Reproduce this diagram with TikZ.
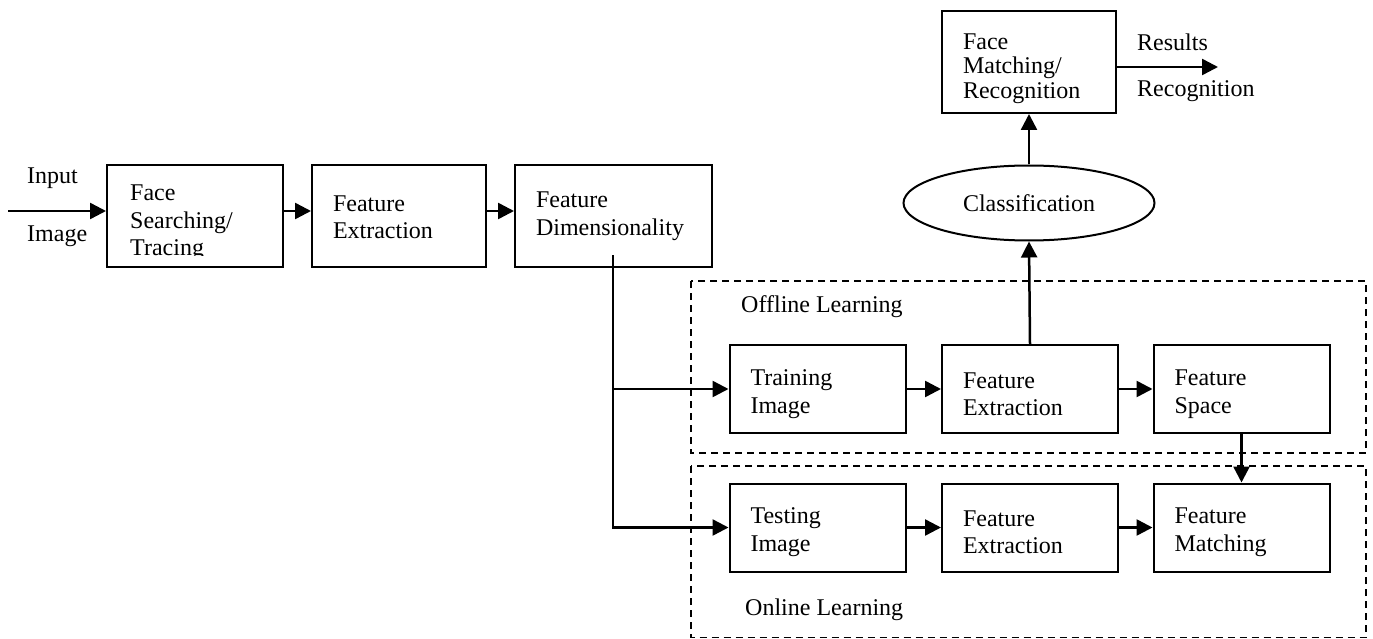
\documentclass[tikz,border=0pt]{standalone}
\usepackage{fontspec}
\setmainfont{Liberation Serif}
\usetikzlibrary{arrows.meta,shapes.geometric}
\newcommand{\mystrut}[1]{\rule{0pt}{#1}}
\begin{document}
\begin{tikzpicture}[x=1pt,y=-1pt,
  txt/.style={font=\fontsize{24}{27.5}\selectfont},
  box/.style={draw,line width=2pt,txt,align=left,inner xsep=21pt,inner ysep=0pt,
    minimum height=88pt},
  arr/.style={line width=2.5pt,-{Triangle[length=16pt,width=16pt]}},
  grp/.style={draw,line width=1.5pt,dash pattern=on 7pt off 5pt},
  lbl/.style={txt,anchor=west,inner sep=0pt}]
\useasboundingbox (0,0) rectangle (1373,639);
% group frames
\draw[grp] (691,281) rectangle (1366,453);
\draw[grp] (691,466) rectangle (1366,637.5);
% top row
\node[box,minimum width=176pt,minimum height=102pt] (b1) at (195,216) {};
\begin{scope}
  \clip (b1.north west) rectangle (283,255);
  \node[txt,anchor=north west,align=left,inner sep=0pt] (b1t) at (130,185) {Face\\Searching/\\Tracing};
\end{scope}
\node[box,minimum width=174pt,minimum height=102pt,text width=132pt] (b2) at (399,216) {\mystrut{18pt}Feature\\Extraction};
\node[box,minimum width=197pt,minimum height=102pt,text width=155pt] (b3) at (613.5,216) {Feature\\Dimensionality};
\coordinate (in) at (8,211);
\node[lbl] (inlbl) at (27,178) {Input};
\node[lbl] (imlbl) at (27,236) {Image};
\draw[arr] (in) -- ([yshift=5pt]b1.west);
\draw[arr] ([yshift=5pt]b1.east) -- ([yshift=5pt]b2.west);
\draw[arr] ([yshift=5pt]b2.east) -- ([yshift=5pt]b3.west);
% offline row
\node[lbl] (off) at (741,307) {Offline Learning};
\node[box,minimum width=176pt,text width=134pt] (train) at (817.5,389) {\mystrut{26pt}Training\\Image};
\node[box,minimum width=176pt,text width=134pt] (fe1) at (1030,389) {\mystrut{26pt}Feature\\Extraction};
\node[box,minimum width=176pt,text width=134pt] (fs) at (1241.5,389) {\mystrut{26pt}Feature\\Space};
% online row
\node[box,minimum width=176pt,text width=134pt] (test) at (817.5,527.5) {\mystrut{25pt}Testing\\Image};
\node[box,minimum width=176pt,text width=134pt] (fe2) at (1030,527.5) {\mystrut{25pt}Feature\\Extraction};
\node[box,minimum width=176pt,text width=134pt] (fm) at (1241.5,527.5) {\mystrut{25pt}Feature\\Matching};
\node[lbl] (on) at (745,610) {Online Learning};
% classification and result
\node[draw,ellipse,line width=2pt,txt,minimum width=251pt,minimum height=75pt,inner sep=0pt] (cls) at (1029,203) {Classification};
\node[box,minimum width=174pt,minimum height=102pt,text width=132pt,
  font=\fontsize{24}{24.5}\selectfont] (fmr) at (1029,62) {\mystrut{29pt}Face\\Matching/\\Recognition};
\coordinate (out) at (1218,67);
\node[lbl] (res) at (1137,42) {Results};
\node[lbl] (rec) at (1137,91) {Recognition};
% connectors
\coordinate (br) at (613,255);
\draw[arr] (br) |- (test.west);
\draw[arr] (br |- train.west) -- (train.west);
\draw[arr] (train) -- (fe1);
\draw[arr] (fe1) -- (fs);
\draw[arr] (test) -- (fe2);
\draw[arr] (fe2) -- (fm);
\draw[arr] (fs.south) -- (fm.north);
\draw[arr] (fe1.north) -- (cls.south);
\draw[arr] (cls.north) -- (fmr.south);
\draw[arr] ([yshift=-5pt]fmr.east) -- (out);
\end{tikzpicture}
\end{document}
